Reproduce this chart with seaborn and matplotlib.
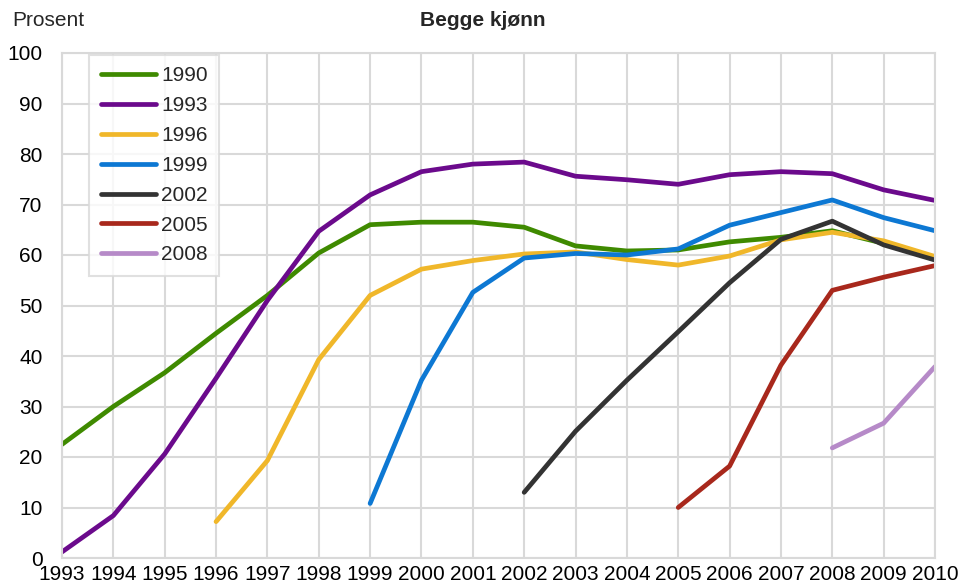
import matplotlib
matplotlib.use("Agg")
import matplotlib.pyplot as plt
import seaborn as sns
import pandas as pd
import numpy as np

years = list(range(1993, 2011))
cohorts = ["1990", "1993", "1996", "1999", "2002", "2005", "2008"]
start_years = [1993, 1993, 1996, 1999, 2002, 2005, 2008]

v1990 = [22.5, 30.0, 36.7, 44.5, 52.0, 60.4, 66.0, 66.5, 66.5, 65.5, 61.8, 60.8, 61.0, 62.6, 63.5, 64.8, 62.3, 59.3]
v1993 = [1.2, 8.4, 20.6, 35.6, 51.0, 64.7, 71.9, 76.5, 78.0, 78.4, 75.6, 74.9, 74.0, 75.9, 76.5, 76.1, 72.9, 70.8]
v1996 = [7.2, 19.3, 39.3, 52.0, 57.2, 58.9, 60.2, 60.6, 59.1, 58.0, 59.8, 63.0, 64.5, 62.8, 59.7]
v1999 = [10.8, 35.2, 52.6, 59.4, 60.3, 60.0, 61.2, 65.9, 68.4, 70.9, 67.4, 64.8]
v2002 = [13.0, 25.1, 35.2, 44.8, 54.5, 63.1, 66.7, 62.0, 59.0]
v2005 = [10.0, 18.2, 38.2, 53.0, 55.6, 57.9]
v2008 = [21.8, 26.7, 37.9]

series = [v1990, v1993, v1996, v1999, v2002, v2005, v2008]
colors = ["#3f8a00", "#6b0a8c", "#f0b72a", "#0d78d3", "#333333", "#a8281c", "#b68ac8"]

rows = []
for name, start, vals in zip(cohorts, start_years, series):
    for i, v in enumerate(vals):
        rows.append({"År": start + i, "Prosent": v, "Kull": name})
df = pd.DataFrame(rows)

sns.set_style("white")
plt.rcParams["font.family"] = ["Liberation Sans", "DejaVu Sans"]

FS = 15

fig = plt.figure(figsize=(9.6, 5.83), dpi=100)
ax = fig.add_axes([62/960, 1-558/583, (935-62)/960, (558-53)/583])

sns.lineplot(data=df, x="År", y="Prosent", hue="Kull", hue_order=cohorts,
             palette=dict(zip(cohorts, colors)), linewidth=3.4, ax=ax,
             estimator=None, sort=True)

ax.set_xlim(1993, 2010)
ax.set_ylim(0, 100)
ax.set_xticks(years)
ax.set_xticklabels([str(y) for y in years])
ax.set_yticks(range(0, 101, 10))
ax.tick_params(axis="both", length=0, labelsize=FS, colors="#000000")
ax.tick_params(axis="x", pad=5)
ax.tick_params(axis="y", pad=14)
ax.grid(True, color="#d9d9d9", linewidth=1.5)
ax.set_axisbelow(True)
for s in ax.spines.values():
    s.set_color("#d9d9d9")
    s.set_linewidth(1.5)
ax.set_xlabel("")
ax.set_ylabel("")

leg = ax.legend(loc="upper left", bbox_to_anchor=(0.031, 0.996), fontsize=FS,
                handlelength=2.65, handletextpad=0.25, labelspacing=0.52,
                borderpad=0.55, frameon=True, fancybox=False, borderaxespad=0)
leg.get_frame().set_edgecolor("#d9d9d9")
leg.get_frame().set_linewidth(1.5)
for line in leg.get_lines():
    line.set_linewidth(3.4)

fig.text(12/960, 1-20/583, "Prosent", fontsize=FS, ha="left", va="center")
fig.text(483/960, 1-20/583, "Begge kjønn", fontsize=FS, fontweight="bold",
         ha="center", va="center")

fig.savefig("out.png", dpi=100)
